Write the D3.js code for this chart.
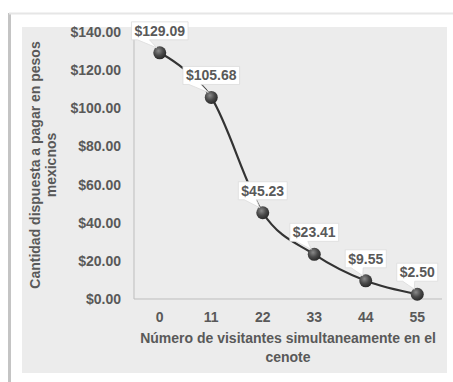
<!DOCTYPE html>
<html>
<head>
<meta charset="utf-8">
<script src="https://cdn.jsdelivr.net/npm/d3@7"></script>
<style>
  html, body { margin: 0; padding: 0; background: #ffffff; }
  svg { display: block; }
  text { font-family: "Liberation Sans", Arial, sans-serif; font-weight: bold; }
</style>
</head>
<body>
<svg id="chart" width="453" height="382"></svg>
<script>
// Visitors present at the same time in the cenote
const visitantes = ["0", "11", "22", "33", "44", "55"];
// Willingness to pay (Mexican pesos)
const montos = [129.09, 105.68, 45.23, 23.41, 9.55, 2.50];
// Y-axis tick values
const yTicks = [0, 20, 40, 60, 80, 100, 120, 140];

const svg = d3.select("#chart");

// page frame lines
svg.append("line").attr("x1", 9.5).attr("x2", 9.5).attr("y1", 13).attr("y2", 382)
  .attr("stroke", "#c4c4c4").attr("stroke-width", 3);
svg.append("line").attr("x1", 9).attr("x2", 453).attr("y1", 13.5).attr("y2", 13.5)
  .attr("stroke", "#e6e6e6").attr("stroke-width", 2);

// chart area
svg.append("rect").attr("x", 22).attr("y", 27).attr("width", 425).attr("height", 346)
  .attr("fill", "#ececec");

const plot = { left: 134, right: 443, top: 32, bottom: 299 };

const x = d3.scaleBand().domain(visitantes).range([plot.left, plot.right]);
const y = d3.scaleLinear().domain([0, 140]).range([plot.bottom, plot.top]);
const cx = d => x(d) + x.bandwidth() / 2;

const fmt = d3.format("$,.2f");
const textColor = "#595959";

// y axis
const yAxis = svg.append("g").attr("transform", `translate(${plot.left},0)`)
  .call(d3.axisLeft(y).tickValues(yTicks).tickFormat(fmt).tickSize(0).tickPadding(13));
yAxis.select(".domain").attr("stroke", "#bdbdbd").attr("d", `M0,27V${plot.bottom}`);
yAxis.selectAll("text").attr("fill", textColor).attr("font-size", 14)
  .attr("font-family", "Liberation Sans, Arial, sans-serif").attr("font-weight", "bold");

// x axis
const xAxis = svg.append("g").attr("transform", `translate(0,${plot.bottom})`)
  .call(d3.axisBottom(x).tickSize(0).tickPadding(13));
xAxis.select(".domain").attr("stroke", "#bdbdbd").attr("d", `M${plot.left},0H${plot.right - 1}`);
xAxis.selectAll("text").attr("fill", textColor).attr("font-size", 14)
  .attr("font-family", "Liberation Sans, Arial, sans-serif").attr("font-weight", "bold");

// x axis title
const xt = svg.append("text").attr("x", 288).attr("text-anchor", "middle")
  .attr("fill", textColor).attr("font-size", 14);
xt.append("tspan").attr("x", 288).attr("y", 343).text("Número de visitantes simultaneamente en el");
xt.append("tspan").attr("x", 288).attr("y", 362).text("cenote");

// y axis title
const yt = svg.append("text").attr("transform", "translate(0,165) rotate(-90)")
  .attr("text-anchor", "middle").attr("fill", textColor).attr("font-size", 14);
yt.append("tspan").attr("x", 0).attr("y", 40).text("Cantidad dispuesta a pagar en pesos");
yt.append("tspan").attr("x", 0).attr("y", 56).text("mexicnos");

// smoothed line
const pts = visitantes.map((v, i) => [cx(v), y(montos[i])]);
svg.append("path").attr("d", d3.line().curve(d3.curveCatmullRom.alpha(0))(pts))
  .attr("fill", "none").attr("stroke", "#333333").attr("stroke-width", 2.2);

// markers
const defs = svg.append("defs");
const grad = defs.append("radialGradient").attr("id", "ball")
  .attr("cx", "40%").attr("cy", "35%").attr("r", "65%");
grad.append("stop").attr("offset", "0%").attr("stop-color", "#8a8a8a");
grad.append("stop").attr("offset", "55%").attr("stop-color", "#4a4a4a");
grad.append("stop").attr("offset", "100%").attr("stop-color", "#2a2a2a");

svg.selectAll("circle.pt").data(pts).join("circle").attr("class", "pt")
  .attr("cx", d => d[0]).attr("cy", d => d[1]).attr("r", 6.5)
  .attr("fill", "url(#ball)");

// data callouts
const labels = svg.append("g");
visitantes.forEach((v, i) => {
  const px = cx(v), py = y(montos[i]);
  const g = labels.append("g");
  const path = g.append("path");
  const t = g.append("text").attr("x", px).attr("text-anchor", "middle")
    .attr("fill", textColor).attr("font-size", 14).text(fmt(montos[i]));
  const w = t.node().getComputedTextLength() + 6;
  const h = 18;
  const bottom = py - 13;
  const top = bottom - h;
  const left = px - w / 2, right = px + w / 2;
  t.attr("y", bottom - 4);
  path.attr("d", `M${left},${top}H${right}V${bottom}H${left + 18}L${px - 3},${py - 5}L${left + 6},${bottom}H${left}Z`)
    .attr("fill", "#ffffff").attr("stroke", "#dcdcdc").attr("stroke-width", 0.8);
});
</script>
</body>
</html>
